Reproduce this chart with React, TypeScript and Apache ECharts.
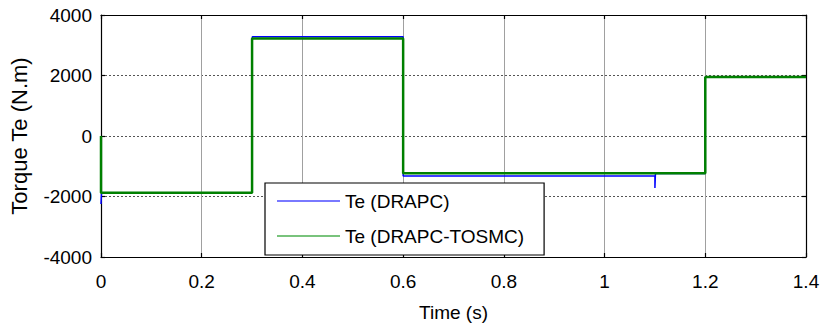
import React, { useEffect, useRef } from "react";
import * as echarts from "echarts";

// Electromagnetic torque responses, time in seconds, torque in N.m
const timeDRAPC = [0, 0.001, 0.2995, 0.2995, 0.3005, 0.3005, 0.6, 0.6, 1.1, 1.1, 1.101, 1.2, 1.2, 1.4];
const torqueDRAPC = [-2250, -1880, -1880, 1800, 1800, 3280, 3280, -1320, -1320, -1720, -1240, -1240, 1950, 1950];

const timeTOSMC = [0, 0, 0.3, 0.3, 0.6, 0.6, 1.2, 1.2, 1.4];
const torqueTOSMC = [0, -1880, -1880, 3220, 3220, -1230, -1230, 1950, 1950];

const seriesNames = ["Te (DRAPC)", "Te (DRAPC-TOSMC)"];
const xTickLabels = ["0", "0.2", "0.4", "0.6", "0.8", "1", "1.2", "1.4"];
const yTickLabels = ["-4000", "-2000", "0", "2000", "4000"];

const FONT = "'Liberation Sans', Arial, Helvetica, sans-serif";

const pairs = (xs: number[], ys: number[]) => xs.map((x, i) => [x, ys[i]]);

export default function App() {
  const ref = useRef<HTMLDivElement>(null);

  useEffect(() => {
    if (!ref.current) return;
    const chart = echarts.init(ref.current, undefined, { renderer: "svg" });

    const xLabel = (v: number) => xTickLabels[Math.round(v / 0.2)] ?? String(v);
    const yLabel = (v: number) => yTickLabels[Math.round((v + 4000) / 2000)] ?? String(v);

    const frameAxis = {
      axisLine: { show: true, onZero: false, lineStyle: { color: "#000", width: 1.2 } },
      axisTick: { show: true, inside: true, length: 4, lineStyle: { color: "#000", width: 1.2 } },
    };

    chart.setOption({
      animation: false,
      backgroundColor: "#fff",
      textStyle: { fontFamily: FONT },
      grid: { left: 101, right: 17, top: 15, bottom: 72, containLabel: false },
      xAxis: [
        {
          type: "value",
          min: 0,
          max: 1.4,
          interval: 0.2,
          position: "bottom",
          ...frameAxis,
          axisLabel: { show: true, margin: 15, fontSize: 19, color: "#000", fontFamily: FONT, formatter: xLabel },
          splitLine: { show: true, lineStyle: { color: "#a0a0a0", width: 1, type: "solid" } },
          name: "Time (s)",
          nameLocation: "middle",
          nameGap: 46,
          nameTextStyle: { fontSize: 19, color: "#000", fontFamily: FONT },
        },
        {
          type: "value",
          min: 0,
          max: 1.4,
          interval: 0.2,
          position: "top",
          ...frameAxis,
          axisLabel: { show: false },
          splitLine: { show: false },
        },
      ],
      yAxis: [
        {
          type: "value",
          min: -4000,
          max: 4000,
          interval: 2000,
          position: "left",
          ...frameAxis,
          axisLabel: { show: true, margin: 9, fontSize: 19, color: "#000", fontFamily: FONT, formatter: yLabel },
          splitLine: { show: true, lineStyle: { color: "#555", width: 1, type: [2, 2] } },
          name: "Torque Te (N.m)",
          nameLocation: "middle",
          nameGap: 71,
          nameTextStyle: { fontSize: 22, color: "#000", fontFamily: FONT },
        },
        {
          type: "value",
          min: -4000,
          max: 4000,
          interval: 2000,
          position: "right",
          ...frameAxis,
          axisLabel: { show: false },
          splitLine: { show: false },
        },
      ],
      legend: {
        left: 265,
        top: 183,
        orient: "vertical",
        backgroundColor: "#fff",
        borderColor: "#000",
        borderWidth: 1.2,
        borderRadius: 0,
        padding: [8, 20, 9, 12],
        icon: "rect",
        itemWidth: 63,
        itemHeight: 1.5,
        itemGap: 15,
        selectedMode: false,
        textStyle: { fontSize: 19, color: "#000", fontFamily: FONT, lineHeight: 20 },
        data: [
          { name: seriesNames[0], itemStyle: { color: "#4d4dff" } },
          { name: seriesNames[1], itemStyle: { color: "#4caf50" } },
        ],
      },
      series: [
        {
          name: seriesNames[0],
          type: "line",
          xAxisIndex: 0,
          yAxisIndex: 0,
          symbol: "none",
          showSymbol: false,
          data: pairs(timeDRAPC, torqueDRAPC),
          lineStyle: { color: "#0000ff", width: 1.5 },
          itemStyle: { color: "#0000ff" },
          z: 3,
        },
        {
          name: seriesNames[1],
          type: "line",
          xAxisIndex: 0,
          yAxisIndex: 0,
          symbol: "none",
          showSymbol: false,
          data: pairs(timeTOSMC, torqueTOSMC),
          lineStyle: { color: "#008000", width: 2.5 },
          itemStyle: { color: "#008000" },
          z: 4,
        },
      ],
    });

    return () => chart.dispose();
  }, []);

  return (
    <div
      ref={ref}
      style={{ position: "fixed", left: 0, top: 0, width: 823, height: 329, background: "#fff" }}
    />
  );
}
